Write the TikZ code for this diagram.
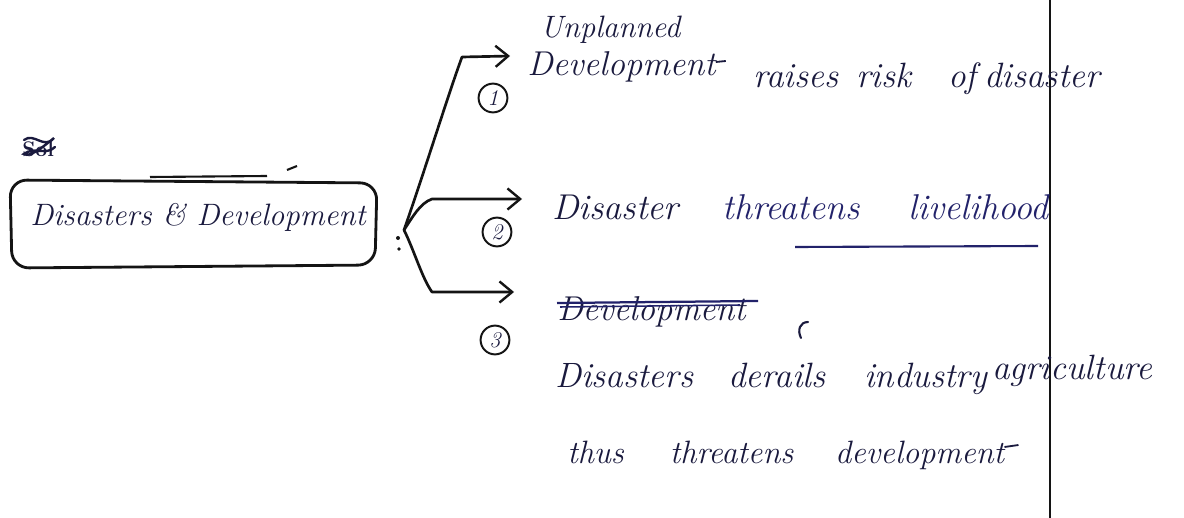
\documentclass[tikz,border=0pt]{standalone}
\usepackage{graphicx}
\usetikzlibrary{arrows.meta}
\definecolor{ink}{HTML}{1A1A3E}
\definecolor{blueink}{HTML}{22226A}
\definecolor{pen}{HTML}{141414}
% horizontal gap between handwritten words, given in drawing units
\newcommand\wordgap[1]{\hspace{\dimexpr0.025cm*#1\relax}}
\begin{document}
\begin{tikzpicture}[x=0.025cm,y=-0.025cm,
  hand/.style={text=ink,font=\fontsize{25}{29}\selectfont\itshape,inner sep=0pt,anchor=base west},
  num/.style={draw=pen,circle,line width=1.4pt,inner sep=0pt,minimum size=0.72cm,text=ink,font=\fontsize{16}{18}\selectfont\itshape},
  stroke/.style={draw=pen,line width=1.9pt,line cap=round,line join=round},
  pointer/.style={stroke,-{Straight Barb[length=9pt,width=15pt,line width=1.7pt]}}
]
\useasboundingbox[fill=white] (0,0) rectangle (1184,518);

% margin rule of the page
\draw[pen,line width=1.7pt] (1050,0) -- (1050,518);

% crossed-out heading mark
\node[hand,font=\fontsize{15}{17}\selectfont\bfseries] (sol) at (22,157) {Sol};
\draw[ink,line width=1.7pt,line cap=round] (24,140) .. controls (34,132) and (44,150) .. (54,138)
  .. controls (44,146) and (30,158) .. (24,154) .. controls (34,146) and (46,156) .. (55,147);

% title box
\draw[stroke,line width=2pt,rounded corners=12pt] (10,180) -- (377,183) -- (375,265) -- (12,268) -- cycle;
\node[hand,font=\fontsize{22}{26}\selectfont\itshape] (title) at (30,225) {Disasters \& Development};
\draw[pen,line width=1.5pt] (150,177) -- (267,176);
\draw[pen,line width=1.5pt] (287,170) -- (297,166);

% branch point and the three pointers
\fill[pen] (398,238) circle (2);
\fill[pen] (399,249) circle (1.8);
\coordinate (branch) at (404,230);
\coordinate (tip1) at (510,56);
\coordinate (tip2) at (522,199);
\coordinate (tip3) at (514,292);
\draw[pointer] (branch) .. controls (425,170) and (448,95) .. (462,57) -- (tip1);
\draw[pointer] (branch) .. controls (412,218) and (420,203) .. (432,199) -- (tip2);
\draw[pointer] (branch) .. controls (414,250) and (422,278) .. (432,292) -- (tip3);

% point 1
\node[hand,font=\fontsize{22}{26}\selectfont\itshape] (unpl) at (540,38) {Unplanned};
\node[num] (n1) at (493,98) {1};
\node[hand,font=\fontsize{24.5}{28}\selectfont\itshape] (dev1) at (527,76) {Development};
\draw[ink,line width=1.3pt] (dev1.base east) ++(0,-14) -- ++(10,-1);
\node[hand] (risk) at (753,88) {raises\wordgap{18}risk\wordgap{37}of\wordgap{8}disaster};

% point 2
\node[num] (n2) at (497,232) {2};
\node[hand,font=\fontsize{25.5}{29}\selectfont\itshape] (threat) at (552,220)
  {Disaster\wordgap{44}\textcolor{blueink}{threatens}\wordgap{49}\textcolor{blueink}{livelihood}};
\draw[blueink,line width=1.5pt] (795,247) -- (1038,246);

% point 3
\node[hand,font=\fontsize{24.5}{28}\selectfont\itshape] (dev3) at (557,320) {Development};
\draw[blueink,line width=1.6pt] (557,303) -- (758,301);
\draw[blueink,line width=1.1pt] (560,307) -- (740,305);
\node[num] (n3) at (495,340) {3};
\draw[ink,line width=1.5pt,line cap=round] (808,322) .. controls (800,322) and (797,330) .. (801,338);
\node[hand] (derail) at (555,387)
  {Disasters\wordgap{35}derails\wordgap{39}industry\wordgap{5}\raisebox{0.2cm}{agriculture}};
\node[hand,font=\fontsize{23}{27}\selectfont\itshape] (thus) at (567,463)
  {thus\wordgap{46}threatens\wordgap{42}development};
\draw[ink,line width=1.3pt] (thus.base east) ++(0,-16) -- ++(14,-2);
\end{tikzpicture}
\end{document}
